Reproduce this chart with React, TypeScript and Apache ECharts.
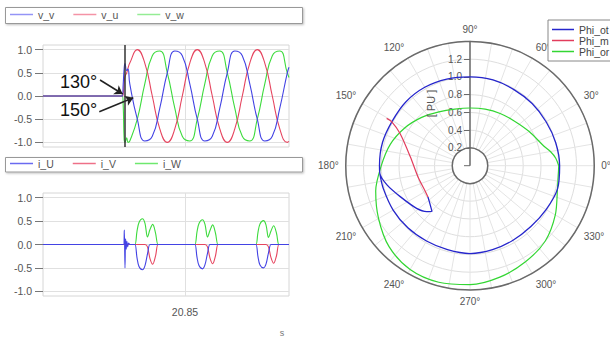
import React, { useEffect, useRef } from 'react';
import * as echarts from 'echarts';

// ---------- time axis (seconds) ----------
const X_MIN = 20.80267;
const X_MAX = 20.88467;
const X_TICKS = [20.85];
const Y_TICKS = [-1, -0.5, 0, 0.5, 1];

// ---------- voltages ----------
const T_V = [
  20.80267, 20.8291, 20.8294, 20.82973, 20.83, 20.83057, 20.831, 20.8316,
  20.8341, 20.8366, 20.8391, 20.8416, 20.8441, 20.8466, 20.8491, 20.8516,
  20.8541, 20.8566, 20.8591, 20.8616, 20.8641, 20.8666, 20.8691, 20.8716,
  20.8741, 20.8766, 20.8791, 20.8816, 20.8841, 20.88467,
];
const V_V = [
  0, 0, 0.25, 0.6, 0.7, 0.55, 0.58, 0.26,
  -0.5, -0.97, -0.87, -0.26, 0.5, 0.97, 0.87, 0.26,
  -0.5, -0.97, -0.87, -0.26, 0.5, 0.97, 0.87, 0.26,
  -0.5, -0.97, -0.87, -0.26, 0.5, 0.62,
];
const V_U = [
  0, 0, 0.05, 0.3, 0.42, 0.5, 0.6, 0.71,
  1, 0.71, 0, -0.71, -1, -0.71, 0, 0.71,
  1, 0.71, 0, -0.71, -1, -0.71, 0, 0.71,
  1, 0.71, 0, -0.71, -1, -0.98,
];
const V_W = [
  0, 0, -0.2, -0.95, -1.0, -0.9, -1.0, -0.97,
  -0.5, 0.26, 0.87, 0.97, 0.5, -0.26, -0.87, -0.97,
  -0.5, 0.26, 0.87, 0.97, 0.5, -0.26, -0.87, -0.97,
  -0.5, 0.26, 0.87, 0.97, 0.5, 0.4,
];

// ---------- currents ----------
const T_I = [
  20.80267, 20.8295, 20.82977, 20.83, 20.8302, 20.8304, 20.83063, 20.8309, 20.8312, 20.83167,
  20.83267, 20.83333, 20.834, 20.83467, 20.83583, 20.83667, 20.8375, 20.83833, 20.83923, 20.84017, 20.841, 20.84167,
  20.85267, 20.85333, 20.854, 20.85467, 20.85583, 20.85667, 20.8575, 20.85833, 20.85923, 20.86017, 20.861, 20.86167,
  20.873, 20.87367, 20.87433, 20.875, 20.87617, 20.877, 20.87783, 20.87867, 20.87957, 20.8805, 20.8813, 20.88197,
  20.88467,
];
const I_U = [
  0, 0, 0.31, -0.5, 0.12, -0.1, 0.07, -0.05, 0.03, 0,
  0, 0, -0.28, -0.47, -0.54, -0.45, -0.2, 0, 0, 0, 0, 0,
  0, 0, -0.27, -0.45, -0.52, -0.43, -0.19, 0, 0, 0, 0, 0,
  0, 0, -0.26, -0.44, -0.5, -0.42, -0.18, 0, 0, 0, 0, 0,
  0,
];
const I_V = [
  0, 0, 0, 0, 0, 0, 0, 0, 0, 0,
  0, 0, 0, 0, 0, 0, -0.05, -0.3, -0.42, -0.25, 0, 0,
  0, 0, 0, 0, 0, 0, -0.05, -0.29, -0.41, -0.24, 0, 0,
  0, 0, 0, 0, 0, 0, -0.05, -0.28, -0.4, -0.24, 0, 0,
  0,
];
const I_W = [
  0, 0, 0, 0, 0, 0, 0, 0, 0, 0,
  0, 0, 0.28, 0.47, 0.55, 0.45, 0.16, 0.32, 0.43, 0.25, 0, 0,
  0, 0, 0.27, 0.45, 0.53, 0.43, 0.16, 0.3, 0.42, 0.24, 0, 0,
  0, 0, 0.26, 0.44, 0.51, 0.42, 0.15, 0.29, 0.4, 0.24, 0, 0,
  0,
];

// ---------- annotations (time, value) ----------
const CURSOR_T = 20.83367;
const ARROW_130 = [[20.82167, 0.345], [20.82923, 0.043]];
const ARROW_150 = [[20.82143, -0.339], [20.83277, -0.037]];

// ---------- polar (angle in degrees, radius in PU) ----------
const PHI_OT_ANG = [216.6, 230.2, 226.7, 218.6, 203.9, 193, 184.8, 180, 165, 150, 135, 120, 105, 90, 75, 60, 45, 30, 15, 0, 345, 330, 315, 300, 285, 270, 255, 240, 225, 210, 195, 185];
const PHI_OT_R = [0.59, 0.67, 0.71, 0.77, 0.86, 0.96, 1.02, 1.02, 1.02, 1.01, 1.02, 1.02, 1.01, 1.0, 1.0, 0.99, 0.99, 0.99, 1.0, 1.01, 1.02, 0.99, 0.97, 0.97, 0.98, 0.99, 0.98, 0.98, 0.99, 1.0, 1.01, 1.02];
const PHI_M_ANG = [150.4, 150.7, 155.2, 171.5, 192, 208.4, 216.6];
const PHI_M_R = [1.08, 1.01, 0.87, 0.68, 0.6, 0.58, 0.59];
const PHI_OR_ANG = [0, 5, 10, 15, 30, 45, 60, 75, 90, 105, 120, 135, 150, 165, 180, 195, 210, 225, 240, 255, 270, 285, 300, 315, 330, 345, 360];
const PHI_OR_R = [1.0, 0.97, 0.92, 0.86, 0.77, 0.71, 0.68, 0.66, 0.65, 0.66, 0.7, 0.77, 0.85, 0.93, 1.0, 1.1, 1.19, 1.29, 1.35, 1.36, 1.34, 1.3, 1.25, 1.2, 1.11, 1.02, 1.0];

const FONT = '"Liberation Sans", Arial, Helvetica, sans-serif';
const C_BLUE = '#4343e4';
const C_RED = '#e6455f';
const C_GREEN = '#3ddb3d';
const C_GRID = '#e0e0e0';

const toAngle = (a: number) => (a < 90 ? a + 360 : a);

function lineSeries(name: string, color: string, idx: number, t: number[], v: number[], smooth: number, extra: any = {}) {
  return {
    type: 'line',
    name,
    xAxisIndex: idx,
    yAxisIndex: idx,
    data: t.map((x, i) => [x, v[i]]),
    showSymbol: false,
    symbol: 'none',
    smooth,
    z: 3,
    lineStyle: { color, width: 1.1 },
    itemStyle: { color },
    ...extra,
  };
}

function gridMark() {
  return {
    silent: true,
    z: 1,
    symbol: ['none', 'none'],
    label: { show: false },
    lineStyle: { color: C_GRID, width: 1, type: 'solid' },
    data: X_TICKS.map((t) => ({ xAxis: t })),
  };
}

function polarSeries(name: string, color: string, ang: number[], r: number[], width: number) {
  return {
    type: 'line',
    name,
    coordinateSystem: 'polar',
    data: r.map((rv, i) => [rv, toAngle(ang[i])]),
    showSymbol: false,
    symbol: 'none',
    smooth: 0.3,
    lineStyle: { color, width },
    itemStyle: { color },
  };
}

function xAxisOpt(idx: number, showLabel: boolean) {
  return {
    type: 'value',
    gridIndex: idx,
    min: X_MIN,
    max: X_MAX,
    axisLine: { show: false },
    axisTick: { show: showLabel, customValues: X_TICKS, length: 6, lineStyle: { color: '#777' } },
    axisLabel: {
      show: showLabel,
      customValues: X_TICKS,
      formatter: (v: number) => v.toFixed(2),
      color: '#555',
      fontSize: 10.5,
      fontFamily: FONT,
      margin: 10,
    },
    splitLine: { show: false },
  };
}

function yAxisOpt(idx: number) {
  return {
    type: 'value',
    gridIndex: idx,
    min: -1.1,
    max: 1.1,
    axisLine: { show: false },
    axisTick: { show: true, customValues: Y_TICKS, length: 8, lineStyle: { color: '#777' } },
    axisLabel: {
      customValues: Y_TICKS,
      formatter: (v: number) => v.toFixed(1),
      color: '#555',
      fontSize: 10.5,
      fontFamily: FONT,
      margin: 11,
    },
    splitLine: { show: true, lineStyle: { color: C_GRID, width: 1 } },
  };
}

function leftLegend(names: string[], colors: string[], top: number) {
  return {
    data: names.map((n, i) => ({ name: n, itemStyle: { color: colors[i] } })),
    left: 10,
    top,
    padding: 0,
    icon: 'rect',
    itemWidth: 23,
    itemHeight: 1.5,
    itemGap: 19,
    selectedMode: false,
    textStyle: { fontSize: 10.5, color: '#555', fontFamily: FONT },
  };
}

export default function App() {
  const ref = useRef<HTMLDivElement>(null);

  useEffect(() => {
    if (!ref.current) return;
    const chart = echarts.init(ref.current, null, { renderer: 'svg' });

    const option: any = {
      animation: false,
      backgroundColor: '#ffffff',
      textStyle: { fontFamily: FONT },
      grid: [
        { left: 43, top: 45, width: 246, height: 102, show: true, borderColor: '#d6d6d6', borderWidth: 1, backgroundColor: 'transparent' },
        { left: 43, top: 193, width: 246, height: 103, show: true, borderColor: '#d6d6d6', borderWidth: 1, backgroundColor: 'transparent' },
      ],
      xAxis: [xAxisOpt(0, false), xAxisOpt(1, true)],
      yAxis: [yAxisOpt(0), yAxisOpt(1)],
      polar: { center: [470, 165.7], radius: [17.75, 124.25] },
      angleAxis: {
        type: 'value',
        min: 90,
        max: 450,
        interval: 10,
        startAngle: 90,
        clockwise: false,
        axisLine: { show: true, lineStyle: { color: '#6a6a6a', width: 1.5 } },
        axisTick: { show: false },
        axisLabel: {
          formatter: (v: number) => (v % 30 === 0 && v < 450 ? `${v % 360}°` : ''),
          color: '#555',
          fontSize: 10,
          fontFamily: FONT,
          margin: 7,
        },
        splitLine: { show: true, lineStyle: { color: '#e4e4e4', width: 1 } },
      },
      radiusAxis: {
        type: 'value',
        min: 0.2,
        max: 1.4,
        interval: 0.2,
        axisLine: { show: true, lineStyle: { color: '#6a6a6a', width: 1.5 } },
        axisTick: { show: true, length: 6, lineStyle: { color: '#6a6a6a' } },
        axisLabel: {
          formatter: (v: number) => (v > 1.3 ? '' : v.toFixed(1)),
          color: '#555',
          fontSize: 10,
          fontFamily: FONT,
          margin: 8,
        },
        splitLine: { show: true, lineStyle: { color: '#dedede', width: 1 } },
      },
      legend: [
        leftLegend(['v_v', 'v_u', 'v_w'], ['#9494f6', '#f493a6', '#94ec94'], 9),
        leftLegend(['i_U', 'i_V', 'i_W'], ['#6a6af0', '#ee7088', '#6ee86e'], 158),
        {
          data: ['Phi_ot', 'Phi_m', 'Phi_or'],
          orient: 'vertical',
          left: 548,
          top: 20,
          padding: [4, 6, 4, 4],
          icon: 'rect',
          itemWidth: 22,
          itemHeight: 1.5,
          itemGap: 0,
          selectedMode: false,
          borderColor: '#888',
          borderWidth: 1,
          backgroundColor: '#fff',
          textStyle: { fontSize: 10.5, color: '#444', fontFamily: FONT, lineHeight: 10 },
        },
      ],
      series: [
        lineSeries('v_w', C_GREEN, 0, T_V, V_W, 0.5, {
          markLine: {
            silent: true,
            symbol: ['none', 'arrow'],
            symbolSize: 8,
            label: { show: false },
            lineStyle: { color: '#222', width: 1.5, type: 'solid' },
            data: [
              [{ coord: ARROW_130[0] }, { coord: ARROW_130[1] }],
              [{ coord: ARROW_150[0] }, { coord: ARROW_150[1] }],
            ],
          },
        }),
        lineSeries('v_u', C_RED, 0, T_V, V_U, 0.5, {
          markLine: {
            silent: true,
            symbol: ['none', 'none'],
            label: { show: false },
            lineStyle: { color: '#333', width: 1.5, type: 'solid' },
            data: [{ xAxis: CURSOR_T }],
          },
        }),
        lineSeries('v_v', C_BLUE, 0, T_V, V_V, 0.5, { markLine: gridMark() }),
        lineSeries('i_W', C_GREEN, 1, T_I, I_W, 0.35, { markLine: gridMark() }),
        lineSeries('i_V', C_RED, 1, T_I, I_V, 0.35),
        lineSeries('i_U', C_BLUE, 1, T_I, I_U, 0.35),
        polarSeries('Phi_or', '#33d633', PHI_OR_ANG, PHI_OR_R, 1.2),
        polarSeries('Phi_ot', '#2626cc', PHI_OT_ANG, PHI_OT_R, 1.3),
        polarSeries('Phi_m', '#e23c5c', PHI_M_ANG, PHI_M_R, 1.2),
      ],
      graphic: [
        {
          type: 'rect', z: 0,
          shape: { x: 5.5, y: 7.5, width: 297, height: 16 },
          style: { fill: '#fff', stroke: '#999', lineWidth: 1, shadowBlur: 2, shadowColor: 'rgba(0,0,0,0.25)', shadowOffsetX: 1, shadowOffsetY: 1 },
        },
        {
          type: 'rect', z: 0,
          shape: { x: 5.5, y: 157.5, width: 297, height: 14.5 },
          style: { fill: '#fff', stroke: '#999', lineWidth: 1, shadowBlur: 2, shadowColor: 'rgba(0,0,0,0.25)', shadowOffsetX: 1, shadowOffsetY: 1 },
        },
        {
          type: 'text', z: 10, x: 60, y: 81.7,
          style: { text: '130°', fill: '#111', fontSize: 18, fontFamily: FONT, textAlign: 'left', align: 'left', textVerticalAlign: 'middle', verticalAlign: 'middle' },
        },
        {
          type: 'text', z: 10, x: 60, y: 110.3,
          style: { text: '150°', fill: '#111', fontSize: 18, fontFamily: FONT, textAlign: 'left', align: 'left', textVerticalAlign: 'middle', verticalAlign: 'middle' },
        },
        {
          type: 'text', z: 10, x: 431, y: 103.5, rotation: Math.PI / 2,
          style: { text: '[ PU ]', fill: '#555', fontSize: 11, fontFamily: FONT, textAlign: 'center', align: 'center', textVerticalAlign: 'middle', verticalAlign: 'middle' },
        },
        {
          type: 'text', z: 10, x: 282, y: 333,
          style: { text: 's', fill: '#777', fontSize: 9, fontFamily: FONT, textAlign: 'center', align: 'center', textVerticalAlign: 'middle', verticalAlign: 'middle' },
        },
        {
          type: 'line', z: 10,
          shape: { x1: 470, y1: 147.5, x2: 470, y2: 165.7 },
          style: { stroke: '#6a6a6a', lineWidth: 1.5 },
        },
        {
          type: 'line', z: 10,
          shape: { x1: 464, y1: 165.7, x2: 470, y2: 165.7 },
          style: { stroke: '#6a6a6a', lineWidth: 1 },
        },
      ],
    };

    chart.setOption(option);
    return () => chart.dispose();
  }, []);

  return (
    <div
      ref={ref}
      style={{ position: 'fixed', left: 0, top: 0, width: 610, height: 338, background: '#fff' }}
    />
  );
}
